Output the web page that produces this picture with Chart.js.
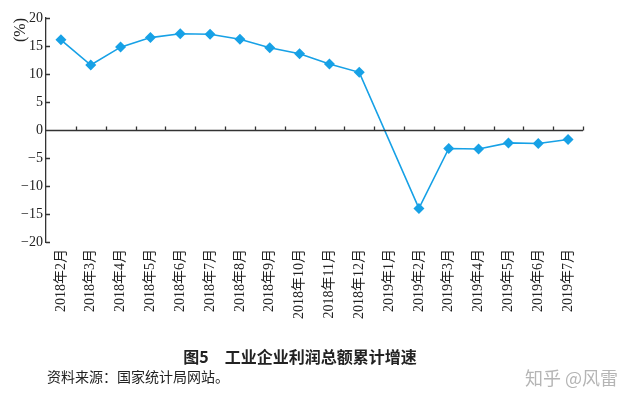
<!DOCTYPE html>
<html>
<head>
<meta charset="utf-8">
<script src="https://cdn.jsdelivr.net/npm/chart.js@4"></script>
<style>
  body { margin: 0; background: #fff; }
  canvas { display: block; }
</style>
</head>
<body>
<canvas id="profitChart" width="635" height="394"></canvas>
<script>
// data
var months = ["2018年2月", "2018年3月", "2018年4月", "2018年5月", "2018年6月", "2018年7月",
  "2018年8月", "2018年9月", "2018年10月", "2018年11月", "2018年12月", "2019年1月",
  "2019年2月", "2019年3月", "2019年4月", "2019年5月", "2019年6月", "2019年7月"];
var growth = [16.1, 11.6, 14.8, 16.5, 17.2, 17.1, 16.2, 14.7, 13.6, 11.8, 10.3, null,
  -14.0, -3.3, -3.4, -2.3, -2.4, -1.7];
var yTicks = [-20, -15, -10, -5, 0, 5, 10, 15, 20];

var captionText = "图5　工业企业利润总额累计增速";
var sourceText = "资料来源：国家统计局网站。";
var watermarkText = "知乎 @风雷";

var axisColor = "#333";
var serif = "'Liberation Serif', 'Noto Sans CJK SC', serif";

// zero axis line with small upward ticks, inward y ticks, caption text
var axisPlugin = {
  id: "axisMarks",
  afterDatasetsDraw: function (chart) {
    var ctx = chart.ctx;
    var x = chart.scales.x, y = chart.scales.y;
    var area = chart.chartArea;
    var y0 = Math.round(y.getPixelForValue(0)) + 0.5;
    ctx.save();
    ctx.strokeStyle = axisColor;
    ctx.lineWidth = 1.3;
    ctx.beginPath();
    ctx.moveTo(area.left, y0);
    ctx.lineTo(area.right, y0);
    var half = (x.getPixelForValue(1) - x.getPixelForValue(0)) / 2;
    for (var i = 0; i < months.length; i++) {
      var bx = Math.round(x.getPixelForValue(i) + half) + 0.5;
      ctx.moveTo(bx, y0);
      ctx.lineTo(bx, y0 - 4);
    }
    for (var j = 0; j < yTicks.length; j++) {
      var ty = Math.round(y.getPixelForValue(yTicks[j])) + 0.5;
      ctx.moveTo(area.left, ty);
      ctx.lineTo(area.left + 4, ty);
    }
    ctx.stroke();
    ctx.restore();
  },
  afterDraw: function (chart) {
    var ctx = chart.ctx;
    ctx.save();
    ctx.textBaseline = "middle";
    ctx.fillStyle = "#222";
    ctx.textAlign = "center";
    ctx.font = "bold 16px 'Noto Sans CJK SC', sans-serif";
    ctx.fillText(captionText, 300, 357);
    ctx.textAlign = "left";
    ctx.font = "14px 'Noto Sans CJK SC', serif";
    ctx.fillText(sourceText, 47, 377);
    ctx.fillStyle = "#b5b5b5";
    ctx.font = "18px 'Noto Sans CJK SC', sans-serif";
    ctx.fillText(watermarkText, 525, 378);
    ctx.restore();
  }
};

var ctx = document.getElementById("profitChart").getContext("2d");
var profitChart = new Chart(ctx, {
  type: "line",
  data: {
    labels: months,
    datasets: [{
      label: "工业企业利润总额累计增速",
      data: growth,
      borderColor: "#17a1e6",
      backgroundColor: "#17a1e6",
      borderWidth: 1.6,
      pointStyle: "rectRot",
      pointRadius: 5.5,
      pointBorderWidth: 0,
      spanGaps: true,
      tension: 0
    }]
  },
  options: {
    responsive: false,
    animation: false,
    layout: { padding: { top: 18, right: 52, left: 0, bottom: 62 } },
    plugins: {
      legend: { display: false },
      tooltip: { enabled: false }
    },
    scales: {
      x: {
        offset: true,
        grid: { display: false, drawTicks: false },
        border: { display: false },
        ticks: {
          autoSkip: false,
          minRotation: 90,
          maxRotation: 90,
          padding: 7,
          color: "#222",
          font: { family: serif, size: 14 }
        },
        afterFit: function (scale) { scale.height = 90; }
      },
      y: {
        min: -20,
        max: 20,
        grid: { display: false, drawTicks: false },
        border: { display: true, color: axisColor, width: 1.3 },
        ticks: {
          stepSize: 5,
          padding: 3,
          color: "#222",
          font: { family: serif, size: 14 },
          callback: function (v) { return v < 0 ? "\u2212" + Math.abs(v) : v; }
        },
        title: {
          display: true,
          text: "(%)",
          align: "end",
          color: "#222",
          padding: { top: 11, bottom: 0 },
          font: { family: serif, size: 16 }
        },
        afterFit: function (scale) { scale.width = 46; }
      }
    }
  },
  plugins: [axisPlugin]
});
</script>
</body>
</html>
